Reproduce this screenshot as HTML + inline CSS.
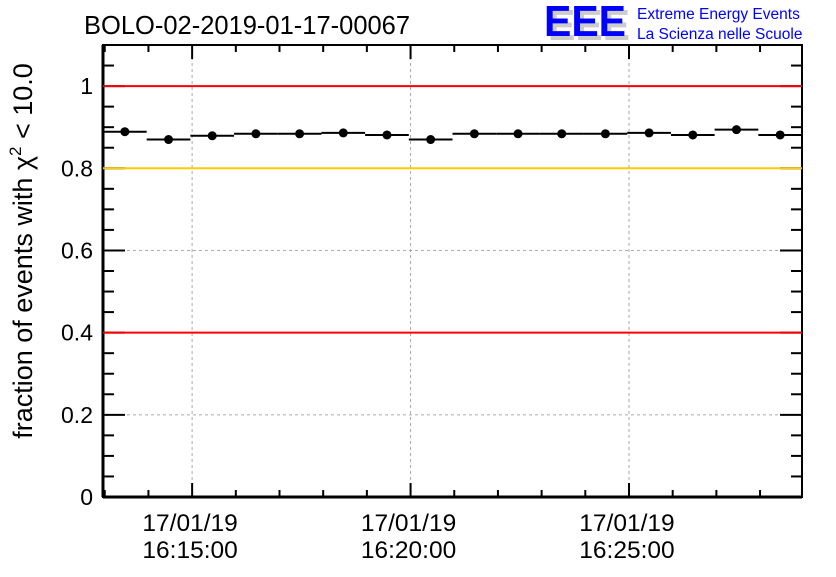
<!DOCTYPE html>
<html><head><meta charset="utf-8"><style>
body{margin:0;background:#fff;width:836px;height:572px;overflow:hidden}
svg{font-family:"Liberation Sans",sans-serif}
</style></head><body>
<svg id="c" width="836" height="572">
<text x="84" y="34" font-size="25.5" fill="#000">BOLO-02-2019-01-17-00067</text>
<g>
<text x="548" y="40" font-size="44" font-weight="bold" fill="#ccc" textLength="82" lengthAdjust="spacingAndGlyphs">EEE</text>
<text x="544" y="36" font-size="44" font-weight="bold" fill="#0000ff" textLength="82" lengthAdjust="spacingAndGlyphs">EEE</text>
<text x="637" y="19" font-size="15.5" fill="#0000ff">Extreme Energy Events</text>
<text x="637" y="39" font-size="15.5" fill="#0000ff">La Scienza nelle Scuole</text>
</g>
<text transform="translate(32,251) rotate(-90)" text-anchor="middle" font-size="27">fraction of events with χ<tspan dy="-11" font-size="17">2</tspan><tspan dy="11"> &lt; 10.0</tspan></text>
<g id="grid"></g><g id="axes"></g><g id="lines"></g><g id="marks"></g>
</svg>
<script>
const values=[0.889,0.870,0.879,0.884,0.884,0.886,0.881,0.870,0.884,0.884,0.884,0.884,0.886,0.881,0.894,0.881];
const yTicks=[0,0.2,0.4,0.6,0.8,1];
const yLabels=["0","0.2","0.4","0.6","0.8","1"];
const xMajorMinutes=[15,20,25];
const xLabels=[["17/01/19","16:15:00"],["17/01/19","16:20:00"],["17/01/19","16:25:00"]];
const refLines=[[1,"#ff0000"],[0.8,"#ffcc00"],[0.4,"#ff0000"]];
const startMin=12.96;
const L=103,R=802,T=45,B=497,YMAX=1.1;
const nBins=values.length;
const xs=m=>L+(m-startMin)/nBins*(R-L);
const ys=v=>B-v/YMAX*(B-T);
const ns="http://www.w3.org/2000/svg";
function mk(p,t,a){const e=document.createElementNS(ns,t);for(const k in a)e.setAttribute(k,a[k]);document.getElementById(p).appendChild(e);return e;}
yTicks.forEach(v=>{if(v>0&&v<1){const e=mk("grid","line",{x1:L,x2:R,y1:ys(v),y2:ys(v),stroke:"#aaa","stroke-dasharray":"3,3"});

}});
xMajorMinutes.forEach(m=>{const e=mk("grid","line",{x1:xs(m),x2:xs(m),y1:T,y2:B,stroke:"#aaa","stroke-dasharray":"3,3"});

});
refLines.forEach(([v,c])=>{const e=mk("lines","line",{x1:L,x2:R,y1:ys(v),y2:ys(v),stroke:c,"stroke-width":2});

});
values.forEach((v,i)=>{const x0=L+i*(R-L)/nBins,x1=x0+(R-L)/nBins,cx=(x0+x1)/2,cy=ys(v);
const l=mk("marks","line",{x1:x0,x2:x1,y1:cy,y2:cy,stroke:"#000","stroke-width":2});


const c=mk("marks","circle",{cx:cx,cy:cy,r:4.5,fill:"#000"});

});
const f=mk("axes","rect",{x:L,y:T,width:R-L,height:B-T,fill:"none",stroke:"#000","stroke-width":2});


mk("axes","line",{x1:L,x2:R,y1:B,y2:B,stroke:"#000","stroke-width":3});
mk("axes","line",{x1:L,x2:L,y1:T,y2:B,stroke:"#000","stroke-width":3});
for(let v=0;v<=1.1001;v+=0.05){const maj=Math.abs(v/0.2-Math.round(v/0.2))<1e-6,len=maj?22:11,y=ys(v);
mk("axes","line",{x1:L,x2:L+len,y1:y,y2:y,stroke:"#000","stroke-width":2});
mk("axes","line",{x1:R,x2:R-len,y1:y,y2:y,stroke:"#000","stroke-width":2});}
yTicks.forEach((v,i)=>{const t=mk("axes","text",{x:L-10,y:ys(v)+8,"text-anchor":"end","font-size":23});t.textContent=yLabels[i];

});
for(let m=13;m<=28;m++){const maj=xMajorMinutes.includes(m),len=maj?14:7,x=xs(m);
mk("axes","line",{x1:x,x2:x,y1:B,y2:B-len,stroke:"#000","stroke-width":2});
mk("axes","line",{x1:x,x2:x,y1:T,y2:T+len,stroke:"#000","stroke-width":2});}
xMajorMinutes.forEach((m,i)=>{[0,1].forEach(j=>{const t=mk("axes","text",{x:xs(m)-2,y:531+j*27,"text-anchor":"middle","font-size":24.5});t.textContent=xLabels[i][j];

});});
</script>
</body></html>
